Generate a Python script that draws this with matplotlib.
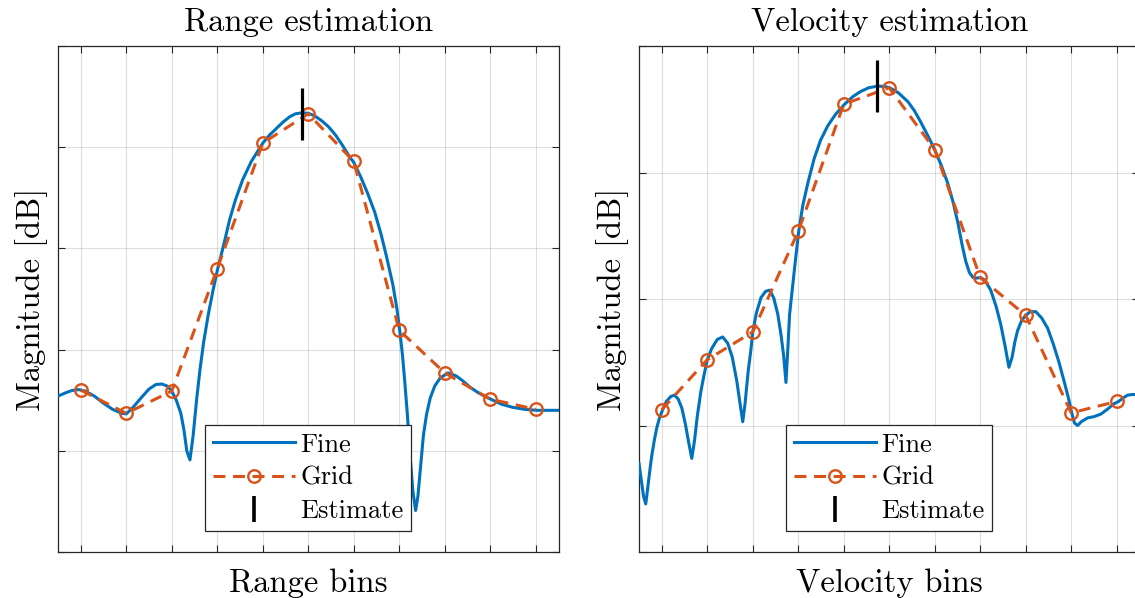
import matplotlib
matplotlib.use("Agg")
import matplotlib.pyplot as plt
from matplotlib.lines import Line2D

plt.rcParams['font.family'] = ['cmr10', 'DejaVu Serif']
plt.rcParams['axes.unicode_minus'] = False
plt.rcParams['mathtext.fontset'] = 'cm'

# ---------------- data ----------------
grid_bins = [1, 2, 3, 4, 5, 6, 7, 8, 9, 10, 11]

range_grid_db = [-34.0, -36.3, -34.1, -22.0, -9.6, -6.7, -11.4, -28.1, -32.3, -34.9, -35.9]
range_fine_bin = [0.50, 0.65, 0.80, 0.95, 1.10, 1.30, 1.50, 1.70, 1.90, 2.00, 2.15, 2.34,
                  2.50, 2.65, 2.78, 2.90, 3.00, 3.10, 3.20, 3.27, 3.33, 3.40, 3.47, 3.55,
                  3.62, 3.70, 3.80, 3.90, 4.01, 4.15, 4.27, 4.40, 4.56, 4.75, 5.00, 5.15,
                  5.31, 5.45, 5.59, 5.72, 5.86, 6.00, 6.14, 6.30, 6.45, 6.60, 6.75, 6.90,
                  7.00, 7.15, 7.30, 7.46, 7.60, 7.72, 7.86, 7.95, 8.01, 8.07, 8.12, 8.18,
                  8.23, 8.30, 8.36, 8.41, 8.47, 8.53, 8.60, 8.68, 8.78, 8.90, 9.07, 9.25,
                  9.40, 9.55, 9.75, 10.01, 10.25, 10.49, 10.75, 11.02, 11.25, 11.50]
range_fine_db = [-34.6, -34.3, -34.05, -33.95, -34.1, -34.6, -35.3, -35.9, -36.3, -36.35, -35.7, -34.7,
                 -33.9, -33.45, -33.4, -33.6, -34.1, -35.0, -36.3, -38.0, -40.0, -40.9, -38.5, -34.8,
                 -32.0, -29.3, -26.6, -24.3, -22.0, -19.5, -17.2, -15.2, -13.2, -11.4, -9.6, -8.8,
                 -8.1, -7.5, -7.0, -6.7, -6.6, -6.65, -6.9, -7.4, -8.0, -8.8, -9.8, -10.9,
                 -11.5, -12.9, -14.5, -16.4, -18.6, -20.8, -23.6, -26.0, -28.1, -30.5, -33.1, -36.5,
                 -40.0, -44.0, -45.9, -44.5, -41.5, -38.5, -36.4, -34.8, -33.6, -32.8, -32.3, -32.6,
                 -33.1, -33.7, -34.3, -34.9, -35.4, -35.7, -35.9, -36.0, -36.0, -36.0]
range_est_bin = 5.87
range_est_db = -6.7

vel_grid_db = [-28.75, -24.8, -22.6, -14.65, -4.6, -3.3, -8.2, -18.3, -21.3, -29.0, -28.1]
vel_fine_bin = [0.50, 0.55, 0.60, 0.648, 0.69, 0.74, 0.78, 0.84, 0.89, 0.95, 1.02, 1.10,
                1.20, 1.28, 1.36, 1.44, 1.52, 1.59, 1.66, 1.72, 1.78, 1.86, 1.93, 2.00,
                2.10, 2.22, 2.34, 2.45, 2.55, 2.65, 2.73, 2.78, 2.83, 2.90, 2.96, 3.00,
                3.08, 3.18, 3.28, 3.37, 3.46, 3.55, 3.62, 3.68, 3.73, 3.77, 3.81, 3.87,
                3.93, 4.01, 4.10, 4.21, 4.35, 4.49, 4.65, 4.82, 5.02, 5.20, 5.37, 5.55,
                5.75, 5.90, 6.01, 6.20, 6.41, 6.55, 6.69, 6.85, 7.00, 7.15, 7.29, 7.40,
                7.51, 7.60, 7.68, 7.76, 7.84, 7.93, 8.00, 8.10, 8.23, 8.35, 8.45, 8.55,
                8.63, 8.70, 8.76, 8.82, 8.91, 9.00, 9.10, 9.22, 9.35, 9.48, 9.60, 9.73,
                9.85, 9.95, 10.01, 10.07, 10.14, 10.22, 10.36, 10.50, 10.65, 10.80, 10.93, 11.04,
                11.15, 11.24, 11.35, 11.50]
vel_fine_db = [-33.0, -34.3, -35.6, -36.2, -35.0, -33.5, -32.4, -31.1, -30.2, -29.4, -28.75, -28.1,
               -27.7, -27.6, -27.9, -28.6, -29.9, -31.3, -32.6, -31.2, -29.3, -27.3, -26.0, -24.8,
               -23.9, -23.2, -23.0, -23.5, -24.6, -26.5, -28.5, -29.7, -28.3, -25.7, -24.0, -22.6,
               -21.1, -19.9, -19.4, -19.3, -19.9, -21.2, -22.8, -24.5, -26.6, -24.0, -21.2, -19.2,
               -17.2, -14.65, -12.6, -10.85, -8.9, -7.45, -6.3, -5.4, -4.6, -4.0, -3.6, -3.3,
               -3.17, -3.2, -3.3, -3.7, -4.4, -5.1, -6.0, -7.1, -8.2, -9.5, -10.9, -12.3,
               -14.0, -15.7, -17.0, -17.9, -18.3, -18.35, -18.3, -18.5, -19.3, -20.6, -22.0, -23.8,
               -25.4, -24.6, -23.4, -22.5, -21.7, -21.3, -21.0, -21.0, -21.5, -22.3, -23.5, -25.0,
               -26.6, -28.0, -29.0, -29.8, -30.0, -29.7, -29.4, -29.3, -29.1, -28.7, -28.3, -28.1,
               -27.8, -27.6, -27.55, -27.55]
vel_est_bin = 5.74
vel_est_db = -3.17

range_yticks = [-50, -40, -30, -20, -10, 0]
vel_yticks = [-40, -30, -20, -10, 0]

titles = ["Range estimation", "Velocity estimation"]
xlabels = ["Range bins", "Velocity bins"]
ylabel = "Magnitude [dB]"
legend_labels = ["Fine", "Grid", "Estimate"]

# ---------------- styling ----------------
BLUE = '#0072BD'
ORANGE = '#D95319'
LW = 2.2
DASH = (0, (3.9, 2.5))
W, H = 1135, 598
fig = plt.figure(figsize=(W / 100, H / 100), dpi=100)

def px_axes(x0, x1, y0, y1):
    return fig.add_axes([x0 / W, 1 - y1 / H, (x1 - x0) / W, (y1 - y0) / H])

axL = px_axes(58, 558.5, 46, 552)
axR = px_axes(639, 1139.5, 46, 552)

panels = [
    (axL, range_fine_bin, range_fine_db, range_grid_db, range_est_bin, range_est_db, range_yticks, (-50, 0)),
    (axR, vel_fine_bin, vel_fine_db, vel_grid_db, vel_est_bin, vel_est_db, vel_yticks, (-40, 0)),
]

for i, (ax, fb, fd, gd, eb, ed, yt, yl) in enumerate(panels):
    ax.plot(fb, fd, color=BLUE, lw=LW, solid_joinstyle='round', zorder=3)
    ax.plot(grid_bins, gd, color=ORANGE, lw=LW, ls=DASH,
            marker='o', ms=9, mfc='none', mec=ORANGE, mew=1.7, zorder=4)
    ax.plot([eb], [ed], ls='none', marker='|', ms=38, mew=2.3, color='black', zorder=5)
    ax.set_xlim(0.5, 11.5)
    ax.set_ylim(*yl)
    ax.set_xticks(grid_bins)
    ax.set_yticks(yt)
    ax.set_xticklabels([])
    ax.set_yticklabels([])
    ax.tick_params(direction='in', length=5, width=0.8, color='#262626',
                   top=True, right=True)
    ax.grid(True, color='#262626', alpha=0.15, lw=0.8)
    for s in ax.spines.values():
        s.set_color('#262626')
        s.set_linewidth(0.9)
    ax.set_title(titles[i], fontsize=23.5, pad=11)
    ax.set_xlabel(xlabels[i], fontsize=23.5, labelpad=8)
    ax.set_ylabel(ylabel, fontsize=23.5, labelpad=4)

    handles = [
        Line2D([], [], color=BLUE, lw=LW),
        Line2D([], [], color=ORANGE, lw=LW, ls=DASH, marker='o', ms=9,
               mfc='none', mec=ORANGE, mew=1.7),
        Line2D([], [], ls='none', marker='|', ms=19, mew=2.6, color='black'),
    ]
    leg = ax.legend(handles, legend_labels, loc='lower center', bbox_to_anchor=(0.5, 0.0),
                    fontsize=19, frameon=True, fancybox=False, framealpha=1,
                    edgecolor='#262626', handlelength=3.1, handletextpad=0.2,
                    borderpad=0.3, labelspacing=0.36, borderaxespad=0.8)
    leg.get_frame().set_linewidth(0.9)

fig.savefig('out.png', dpi=100)
